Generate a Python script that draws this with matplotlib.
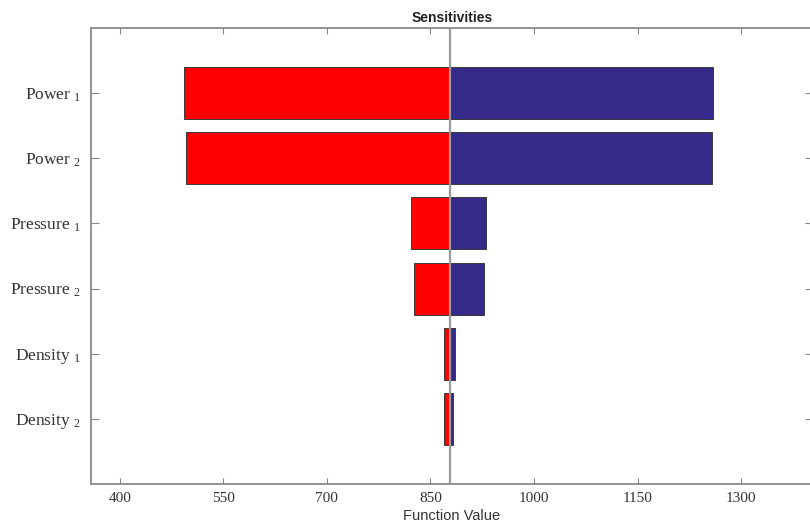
import matplotlib
matplotlib.use("Agg")
import matplotlib.pyplot as plt
import numpy as np

# ---- data ----
categories = ["Power", "Power", "Pressure", "Pressure", "Density", "Density"]
subscripts = ["1", "2", "1", "2", "1", "2"]
base_value = 878
low_values = [493, 496, 822, 826, 870, 870]
high_values = [1259, 1258, 931, 928, 885, 883]
x_ticks = [400, 550, 700, 850, 1000, 1150, 1300]

plt.rcParams["mathtext.fontset"] = "custom"
plt.rcParams["mathtext.rm"] = "Liberation Serif"
plt.rcParams["mathtext.it"] = "Liberation Serif"

fig = plt.figure(figsize=(8.1, 5.25), dpi=100)
ax = fig.add_axes([90.7 / 810, 1 - 484 / 525, (813 - 90.7) / 810, (484 - 28) / 525])

pos = np.arange(1, len(categories) + 1)
low = np.array(low_values) - base_value
high = np.array(high_values) - base_value
ax.barh(pos, low, left=base_value, height=0.8, color="#ff0000",
        edgecolor="#3a3a3a", linewidth=0.7, zorder=2)
ax.barh(pos, high, left=base_value, height=0.8, color="#35298a",
        edgecolor="#3a3a3a", linewidth=0.7, zorder=2)
ax.axvline(base_value, color="#9a9a9a", linewidth=1.6, zorder=3)

ax.set_xlim(358, 1404)
ax.set_ylim(7, 0)
ax.set_xticks(x_ticks)
ax.set_xticklabels([str(t) for t in x_ticks], family="Liberation Serif",
                   fontsize=11, color="#333333")
ax.set_yticks(pos)
ax.set_yticklabels([f"{c} $_{{{s}}}$" for c, s in zip(categories, subscripts)],
                   family="Liberation Serif", fontsize=12.5, color="#333333")
ax.tick_params(axis="x", direction="in", length=4, width=0.8, color="#888888",
               top=True, pad=6)
ax.tick_params(axis="y", direction="in", length=6, width=0.8, color="#888888",
               right=True, pad=7)
for s in ax.spines.values():
    s.set_color("#8a8a8a")
    s.set_linewidth(1.3)

ax.set_title("Sensitivities", family="Liberation Sans", fontweight="bold",
             fontsize=10, pad=4, color="#222222")
ax.set_xlabel("Function Value", family="Liberation Sans", fontsize=10.5,
              color="#333333", labelpad=3)

fig.savefig("out.png", dpi=100)
